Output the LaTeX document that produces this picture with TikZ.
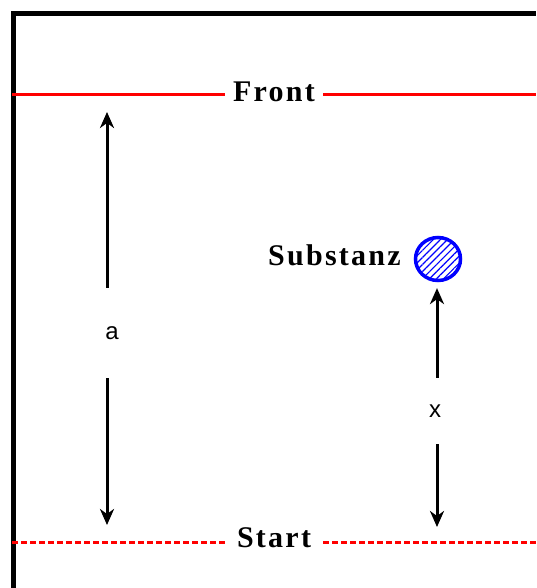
\documentclass[tikz,border=0pt]{standalone}
\usepackage{fontspec}
\usetikzlibrary{arrows.meta,shapes.geometric,patterns.meta,positioning}
\newfontfamily\lblfont[LetterSpace=7.5]{Liberation Serif}
\newfontfamily\dimfont{Liberation Sans}

\begin{document}
\begin{tikzpicture}[x=1pt, y=-1pt, >={Stealth[length=16pt,width=14pt,inset=5pt]},
	lbl/.style={font=\lblfont\fontsize{30}{30}\selectfont\bfseries, inner sep=0pt},
	dim/.style={font=\dimfont\fontsize{24}{24}\selectfont, inner sep=0pt},
	dimline/.style={line width=3pt, ->},
	redline/.style={red, line width=3pt},
	spot/.style={ellipse, draw=blue, line width=3.5pt, minimum width=45pt, minimum height=43pt, pattern={Lines[angle=45,distance=5pt,line width=1.2pt]}, pattern color=blue}]
	\useasboundingbox (0,0) rectangle (536,588);
	\draw[line width=5pt] (13.5,588) -- (13.5,13.5) -- (536,13.5);
	\node[lbl, inner xsep=8pt] (front) at (274,92) {Front};
	\node[lbl, inner xsep=12pt] (start) at (274,537.5) {Start};
	\coordinate (fl) at (12,95); \coordinate (fr) at (536,95);
	\coordinate (sl) at (12,542); \coordinate (sr) at (536,542);
	\draw[redline] (fl) -- (fl -| front.west); \draw[redline] (front.east |- fr) -- (fr);
	\draw[redline, dash pattern=on 6pt off 3pt] (sl) -- (sl -| start.west); \draw[redline, dash pattern=on 6pt off 3pt] (start.east |- sr) -- (sr);
	\node[spot] (spot) at (438,259) {};
	\node[lbl, left=14pt of spot, yshift=4pt] (subst) {Substanz};
	\coordinate (atop) at (107,112); \coordinate (abot) at (107,525);
	\coordinate (xbot) at (437,527);
	\node[dim, minimum height=90pt] (lbla) at (112,333) {a};
	\node[dim, minimum height=66pt] (lblx) at (435,411) {x};
	\draw[dimline] (atop |- lbla.north) -- (atop); \draw[dimline] (abot |- lbla.south) -- (abot);
	\draw[dimline, shorten >=7pt] (xbot |- lblx.north) -- (xbot |- spot.south); \draw[dimline] (xbot |- lblx.south) -- (xbot);
\end{tikzpicture}
\end{document}
